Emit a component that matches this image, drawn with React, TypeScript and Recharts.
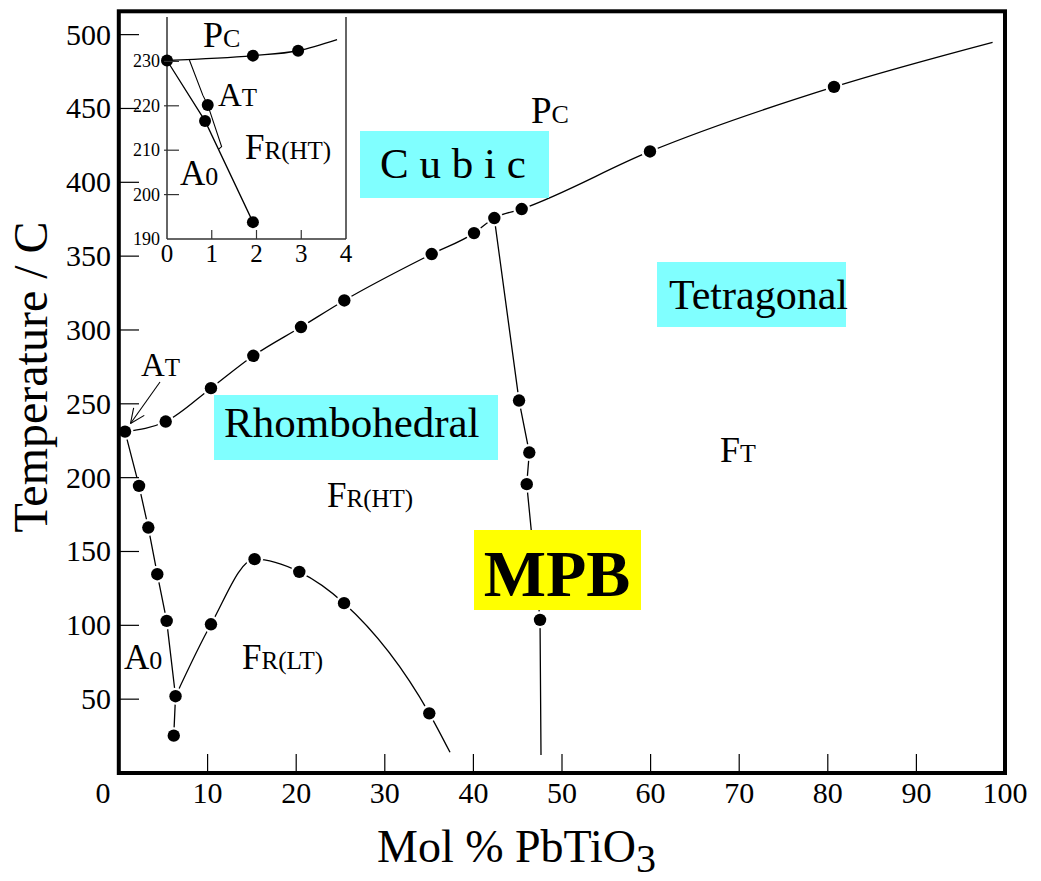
import React from 'react';
import { ComposedChart, Line, Scatter, XAxis, YAxis } from 'recharts';

// main diagram: mol % PbTiO3 vs temperature (C)
const xTicks = [0, 10, 20, 30, 40, 50, 60, 70, 80, 90, 100];
const yTicks = [50, 100, 150, 200, 250, 300, 350, 400, 450, 500];

// paraelectric / ferroelectric (Tc) boundary
const tcPoints = [
  { x: 0.68, y: 231.2 },
  { x: 5.27, y: 238.0 },
  { x: 10.38, y: 260.6 },
  { x: 15.16, y: 282.5 },
  { x: 20.54, y: 302.0 },
  { x: 25.43, y: 320.0 },
  { x: 35.29, y: 351.4 },
  { x: 40.07, y: 365.6 },
  { x: 42.36, y: 375.8 },
  { x: 45.45, y: 381.9 },
  { x: 59.93, y: 420.9 },
  { x: 80.7, y: 464.6 },
];
const tcEnd = [{ x: 98.6, y: 494.8 }];

// A0 (antiferro) boundary on the PMN side
const a0Points = [
  { x: 2.26, y: 194.4 },
  { x: 3.31, y: 166.2 },
  { x: 4.32, y: 134.6 },
  { x: 5.38, y: 103.0 },
  { x: 6.38, y: 52.0 },
  { x: 6.18, y: 25.3 },
];

// FR(HT) / FR(LT) boundary
const ltPoints = [
  { x: 10.38, y: 100.7 },
  { x: 15.3, y: 144.8 },
  { x: 20.35, y: 136.2 },
  { x: 25.4, y: 115.0 },
  { x: 35.02, y: 40.4 },
];
const ltEnd = [{ x: 37.36, y: 14.0 }];

// morphotropic phase boundary
const mpbPoints = [
  { x: 45.15, y: 252.2 },
  { x: 46.31, y: 217.0 },
  { x: 46.02, y: 195.6 },
  { x: 47.52, y: 103.7 },
];
const mpbEnd = [{ x: 47.63, y: 12.2 }];

// inset: 0-4 mol %, 190-240 C
const insetXTicks = [0, 1, 2, 3, 4];
const insetYTicks = [190, 200, 210, 220, 230];
const insetPc = [
  { x: 0, y: 230.2 },
  { x: 1.92, y: 231.3 },
  { x: 2.93, y: 232.4 },
];
const insetPcEnd = [{ x: 3.8, y: 234.9 }];
const insetA0 = [
  { x: 0.85, y: 216.6 },
  { x: 1.92, y: 193.8 },
];
const insetAtDot = [{ x: 0.91, y: 220.2 }];
const insetAtLine = [
  { x: 0.5, y: 230.3 },
  { x: 0.8, y: 222.4 },
  { x: 0.91, y: 220.2 },
  { x: 1.22, y: 210.8 },
  { x: 1.15, y: 210.2 },
];

const FONT = '"Liberation Serif", "Times New Roman", serif';
const CYAN = '#80ffff';

const HaloDot = (p: any) => (
  <g>
    <circle cx={p.cx} cy={p.cy} r={8.5} fill="#fff" />
    <circle cx={p.cx} cy={p.cy} r={6.2} fill="#000" />
  </g>
);
const PlainDot = (p: any) => <circle cx={p.cx} cy={p.cy} r={6} fill="#000" />;

const MainXTick = (p: any) => {
  const v = p.payload.value;
  const inner = v !== 0 && v !== 100;
  return (
    <g>
      {inner && <line x1={p.x} x2={p.x} y1={p.y} y2={p.y - 19} stroke="#000" strokeWidth={1.2} />}
      <text x={p.x + (v === 0 ? -16 : 0)} y={p.y + 30} textAnchor="middle" fontSize={30} fontFamily={FONT} fill="#000">
        {v}
      </text>
    </g>
  );
};

const MainYTick = (p: any) => (
  <g>
    <line x1={p.x} x2={p.x + 20} y1={p.y} y2={p.y} stroke="#000" strokeWidth={1.2} />
    <text x={p.x - 8} y={p.y + 10} textAnchor="end" fontSize={30} fontFamily={FONT} fill="#000">
      {p.payload.value}
    </text>
  </g>
);

const InsetXTick = (p: any) => {
  const v = p.payload.value;
  return (
    <g>
      {v > 0 && v < 4 && <line x1={p.x} x2={p.x} y1={p.y} y2={p.y - 9} stroke="#333" strokeWidth={1.2} />}
      <text x={p.x} y={p.y + 23} textAnchor="middle" fontSize={25} fontFamily={FONT} fill="#000">
        {v}
      </text>
    </g>
  );
};

const InsetYTick = (p: any) => {
  const v = p.payload.value;
  return (
    <g>
      {v > 190 && <line x1={p.x - 3} x2={p.x + 12} y1={p.y} y2={p.y} stroke="#333" strokeWidth={1.2} />}
      <text x={p.x - 7} y={p.y + 6} textAnchor="end" fontSize={18} fontFamily={FONT} fill="#000">
        {v}
      </text>
    </g>
  );
};

const InsetRightTick = (p: any) =>
  p.payload.value > 190 ? (
    <line x1={p.x} x2={p.x - 11} y1={p.y} y2={p.y} stroke="#333" strokeWidth={1.2} />
  ) : (
    <g />
  );

// phase label: large capital + smaller trailing letters on the same baseline
function Phase({ x, y, big, small, bigSize = 35, smallSize = 25 }: any) {
  return (
    <text x={x} y={y} fontFamily={FONT} fill="#000">
      <tspan fontSize={bigSize}>{big}</tspan>
      <tspan fontSize={smallSize}>{small}</tspan>
    </text>
  );
}

function Arrow({ x1, y1, x2, y2 }: any) {
  const a = Math.atan2(y1 - y2, x1 - x2);
  const h = 16;
  const s = 0.42;
  return (
    <g stroke="#000" strokeWidth={1.1} fill="none">
      <line x1={x1} y1={y1} x2={x2} y2={y2} />
      <line x1={x2} y1={y2} x2={x2 + h * Math.cos(a + s)} y2={y2 + h * Math.sin(a + s)} />
      <line x1={x2} y1={y2} x2={x2 + h * Math.cos(a - s)} y2={y2 + h * Math.sin(a - s)} />
    </g>
  );
}

function Inset() {
  return (
    <div style={{ position: 'absolute', left: 100, top: 0 }}>
      <ComposedChart width={280} height={280} margin={{ top: 17, right: 24, bottom: 11, left: 17 }}>
        <XAxis
          type="number"
          dataKey="x"
          domain={[0, 4]}
          ticks={insetXTicks}
          interval={0}
          height={30}
          tickSize={0}
          tickMargin={0}
          tick={InsetXTick}
          axisLine={{ stroke: '#333', strokeWidth: 1.5 }}
          tickLine={false}
        />
        <YAxis
          yAxisId="l"
          type="number"
          dataKey="y"
          domain={[190, 240]}
          ticks={insetYTicks}
          interval={0}
          width={50}
          tickSize={0}
          tickMargin={0}
          tick={InsetYTick}
          axisLine={{ stroke: '#333', strokeWidth: 1.5 }}
          tickLine={false}
        />
        <YAxis
          yAxisId="r"
          orientation="right"
          type="number"
          dataKey="y"
          domain={[190, 240]}
          ticks={insetYTicks}
          interval={0}
          width={10}
          tickSize={0}
          tickMargin={0}
          tick={InsetRightTick}
          axisLine={{ stroke: '#333', strokeWidth: 1.5 }}
          tickLine={false}
        />
        <Line yAxisId="l" data={[...insetPc, ...insetPcEnd]} dataKey="y" type="monotone" stroke="#000" strokeWidth={1.3} dot={false} activeDot={false} isAnimationActive={false} />
        <Line yAxisId="l" data={[insetPc[0], ...insetA0]} dataKey="y" type="linear" stroke="#000" strokeWidth={1.3} dot={false} activeDot={false} isAnimationActive={false} />
        <Line yAxisId="l" data={insetAtLine} dataKey="y" type="linear" stroke="#000" strokeWidth={1.1} dot={false} activeDot={false} isAnimationActive={false} />
        <Scatter yAxisId="l" data={insetPc} dataKey="y" shape={PlainDot} isAnimationActive={false} />
        <Scatter yAxisId="l" data={insetA0} dataKey="y" shape={PlainDot} isAnimationActive={false} />
        <Scatter yAxisId="l" data={insetAtDot} dataKey="y" shape={PlainDot} isAnimationActive={false} />
      </ComposedChart>
    </div>
  );
}

export default function App() {
  const line = { stroke: '#000', strokeWidth: 1.3, dot: false, activeDot: false, isAnimationActive: false } as const;
  return (
    <div style={{ position: 'absolute', left: 0, top: 0, width: 1041, height: 881, background: '#fff' }}>
      <ComposedChart width={1041} height={881} margin={{ top: 11, right: 36, bottom: 48, left: 19 }}>
        <XAxis
          type="number"
          dataKey="x"
          domain={[0, 100]}
          ticks={xTicks}
          interval={0}
          height={60}
          tickSize={0}
          tickMargin={0}
          tick={MainXTick}
          axisLine={false}
          tickLine={false}
        />
        <YAxis
          type="number"
          dataKey="y"
          domain={[0, 516]}
          ticks={yTicks}
          interval={0}
          width={100}
          tickSize={0}
          tickMargin={0}
          tick={MainYTick}
          axisLine={false}
          tickLine={false}
        />
        <Line data={[...tcPoints, ...tcEnd]} dataKey="y" type="monotone" {...line} />
        <Line data={[tcPoints[0], ...a0Points]} dataKey="y" type="linear" {...line} />
        <Line data={[a0Points[4], ...ltPoints, ...ltEnd]} dataKey="y" type="monotone" {...line} />
        <Line data={[tcPoints[8], ...mpbPoints, ...mpbEnd]} dataKey="y" type="linear" {...line} />
        <Scatter data={tcPoints} dataKey="y" shape={HaloDot} isAnimationActive={false} />
        <Scatter data={a0Points} dataKey="y" shape={HaloDot} isAnimationActive={false} />
        <Scatter data={ltPoints} dataKey="y" shape={HaloDot} isAnimationActive={false} />
        <Scatter data={mpbPoints} dataKey="y" shape={HaloDot} isAnimationActive={false} />
      </ComposedChart>
      <Inset />
      <svg width={1041} height={881} style={{ position: 'absolute', left: 0, top: 0, pointerEvents: 'none' }}>
        <rect x={118.8} y={11.3} width={886.2} height={761.7} fill="none" stroke="#000" strokeWidth={4} />

        <rect x={360} y={131} width={189} height={67} fill={CYAN} />
        <text x={380} y={178} fontSize={43} fontFamily={FONT}>C u b i c</text>
        <rect x={657} y={262} width={189} height={65} fill={CYAN} />
        <text x={669} y={309} fontSize={42} fontFamily={FONT}>Tetragonal</text>
        <rect x={214} y={395} width={284} height={65} fill={CYAN} />
        <text x={224} y={437} fontSize={43} fontFamily={FONT}>Rhombohedral</text>
        <rect x={474} y={530} width={167} height={80} fill="#ffff00" />
        <text x={557} y={596} fontSize={66} fontWeight="bold" textAnchor="middle" fontFamily={FONT}>MPB</text>

        <Phase x={531} y={123} big="P" small="C" bigSize={37} smallSize={26} />
        <Phase x={327} y={507} big="F" small="R(HT)" />
        <Phase x={720} y={462} big="F" small="T" bigSize={36} smallSize={26} />
        <Phase x={242} y={669} big="F" small="R(LT)" />
        <Phase x={124} y={669} big="A" small="0" smallSize={26} />
        <Phase x={141} y={376} big="A" small="T" bigSize={33} smallSize={25} />
        <Arrow x1={160} y1={382} x2={130.5} y2={423.5} />

        <Phase x={203} y={47} big="P" small="C" bigSize={36} smallSize={26} />
        <Phase x={218} y={106} big="A" small="T" bigSize={33} smallSize={25} />
        <Phase x={245} y={159} big="F" small="R(HT)" />
        <Phase x={180} y={185} big="A" small="0" smallSize={26} />

        <text transform="translate(47,377) rotate(-90)" textAnchor="middle" fontSize={48} fontFamily={FONT}>
          Temperature / C
        </text>
        <text x={377} y={862} fontSize={46} fontFamily={FONT}>
          Mol % PbTiO<tspan fontSize={40} dy={10}>3</tspan>
        </text>
      </svg>
    </div>
  );
}
